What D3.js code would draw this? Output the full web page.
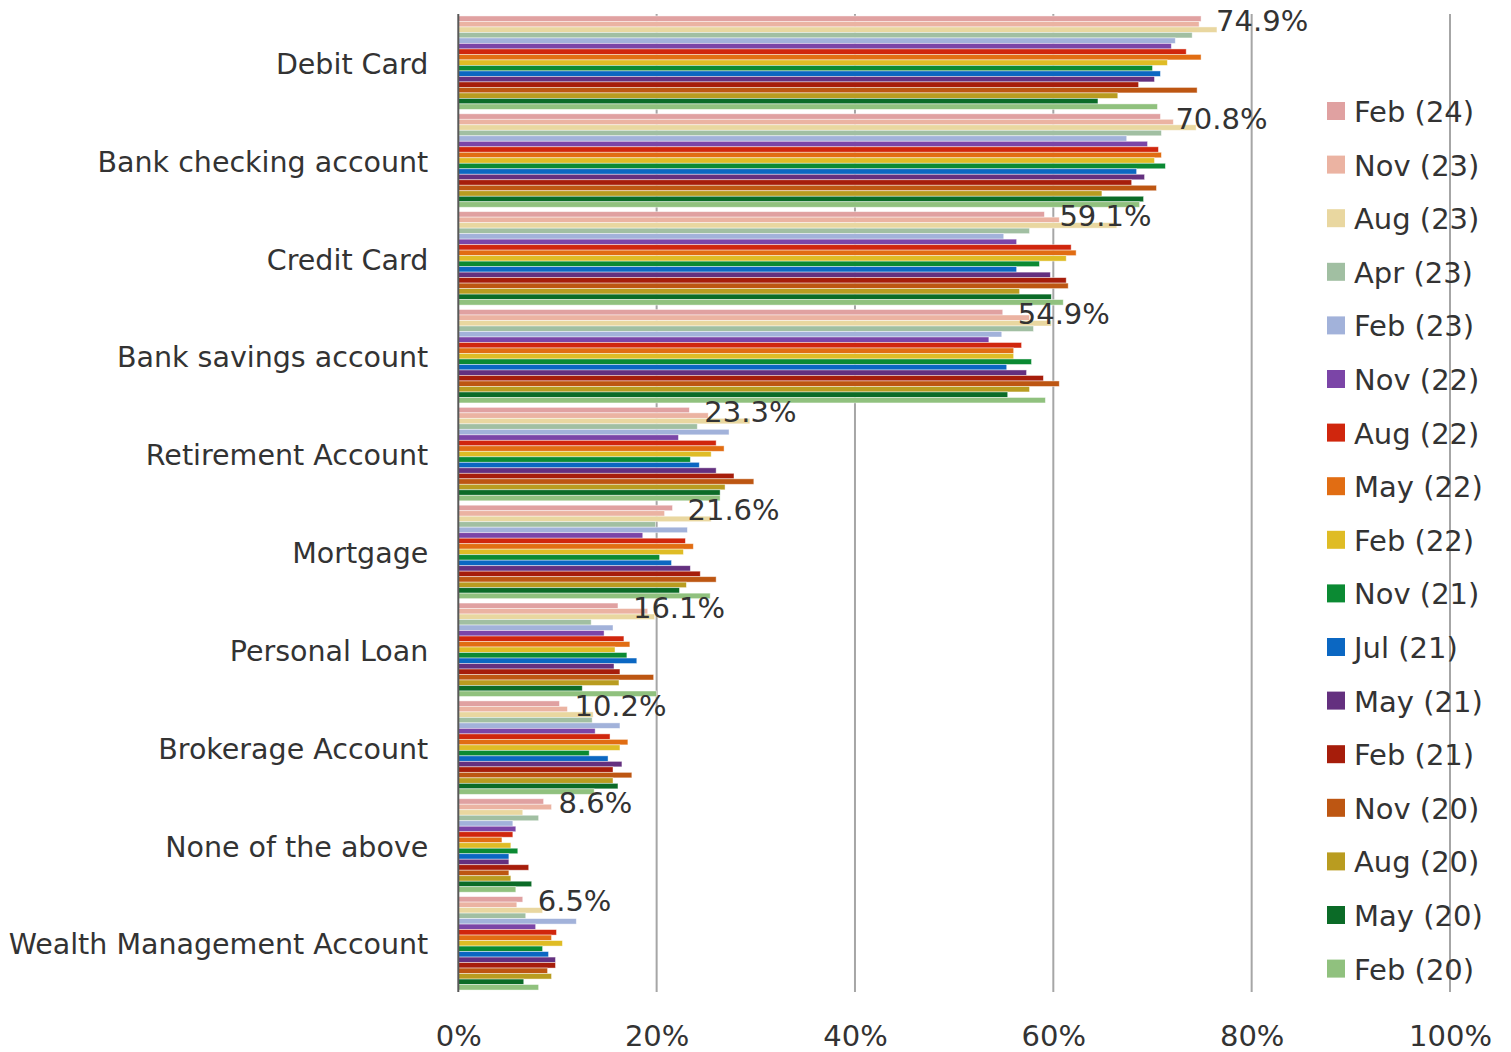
<!DOCTYPE html>
<html><head><meta charset="utf-8">
<script src="https://cdn.jsdelivr.net/npm/d3@7"></script>
<style>body{margin:0;background:#fff}svg{display:block}text{font-family:"DejaVu Sans",Verdana,sans-serif;fill:#333}</style>
</head><body><svg id="c" width="1511" height="1052"></svg>
<script>
const categories = ["Debit Card","Bank checking account","Credit Card","Bank savings account","Retirement Account","Mortgage","Personal Loan","Brokerage Account","None of the above","Wealth Management Account"];
const series = ["Feb (24)","Nov (23)","Aug (23)","Apr (23)","Feb (23)","Nov (22)","Aug (22)","May (22)","Feb (22)","Nov (21)","Jul (21)","May (21)","Feb (21)","Nov (20)","Aug (20)","May (20)","Feb (20)"];
const colors = ["#e0a1a1","#ebb3a2","#e9d7a0","#a1bfa2","#a2b2da","#7b45a7","#d0260d","#e16d13","#dfbc25","#0b8a33","#0b67c2","#64307f","#a61d0b","#bd5612","#b99c20","#0b6b27","#90c17e"];
// values[category][series], percent
const debitCard     = [74.9,74.7,76.5,74.0,72.3,71.9,73.4,74.9,71.5,70.0,70.8,70.2,68.6,74.5,66.5,64.5,70.5];
const bankChecking  = [70.8,72.1,74.4,70.9,67.4,69.5,70.6,70.9,70.2,71.3,68.4,69.2,67.9,70.4,64.9,69.1,68.7];
const creditCard    = [59.1,60.6,66.4,57.6,55.0,56.3,61.8,62.3,61.3,58.6,56.3,59.7,61.3,61.5,56.6,59.8,61.0];
const bankSavings   = [54.9,57.6,59.8,58.0,54.8,53.5,56.8,56.0,56.0,57.8,55.3,57.3,59.0,60.6,57.6,55.4,59.2];
const retirement    = [23.3,25.2,29.4,24.1,27.3,22.2,26.0,26.8,25.5,23.4,24.3,26.0,27.8,29.8,26.9,26.4,26.4];
const mortgage      = [21.6,20.8,25.5,19.9,23.1,18.6,22.9,23.7,22.7,20.3,21.5,23.4,24.4,26.0,23.0,22.3,25.4];
const personalLoan  = [16.1,19.1,19.8,13.4,15.6,14.7,16.7,17.3,15.8,17.0,18.0,15.7,16.3,19.7,16.2,12.5,20.0];
const brokerage     = [10.2,11.0,13.6,13.5,16.3,13.8,15.3,17.1,16.3,13.2,15.1,16.5,15.6,17.5,15.6,16.1,13.7];
const noneAbove     = [8.6,9.4,6.5,8.1,5.5,5.8,5.5,4.4,5.3,6.0,5.1,5.1,7.1,5.1,5.3,7.4,5.8];
const wealthMgmt    = [6.5,5.9,8.5,6.8,11.9,7.8,9.9,9.4,10.5,8.5,9.1,9.8,9.8,9.0,9.4,6.6,8.1];
const values = [debitCard,bankChecking,creditCard,bankSavings,retirement,mortgage,personalLoan,brokerage,noneAbove,wealthMgmt];
const xTicks = [0,20,40,60,80,100];

const svg = d3.select("#c");
const x = d3.scaleLinear().domain([0,100]).range([458.3,1450]);
const y = d3.scaleBand().domain(categories).range([14,992]).paddingInner(0.045).paddingOuter(0.02);
const yi = d3.scaleBand().domain(series).range([0,y.bandwidth()]);
const color = d3.scaleOrdinal().domain(series).range(colors);

// gridlines
svg.append("g").selectAll("line").data(xTicks.slice(1)).join("line")
  .attr("x1",d=>x(d)).attr("x2",d=>x(d)).attr("y1",14).attr("y2",992)
  .attr("stroke","#a6a6a6").attr("stroke-width",2);

// bars
const groups = svg.append("g").selectAll("g").data(categories).join("g")
  .attr("transform",c=>`translate(0,${y(c)})`);
groups.selectAll("rect").data((c,i)=>series.map((s,j)=>({s,v:values[i][j]}))).join("rect")
  .attr("x",x(0)).attr("y",d=>yi(d.s)).attr("height",yi.bandwidth())
  .attr("width",d=>x(d.v)-x(0)).attr("fill",d=>color(d.s))
  .attr("stroke","#fff").attr("stroke-opacity",0.55).attr("stroke-width",0.8);

// value labels for first series
groups.append("text").attr("x",(c,i)=>x(values[i][0])+15)
  .attr("y",yi(series[0])+yi.bandwidth()/2+4).attr("dominant-baseline","middle")
  .attr("font-size",29).text((c,i)=>values[i][0].toFixed(1)+"%");

// axis line at 0
svg.append("line").attr("x1",x(0)).attr("x2",x(0)).attr("y1",14).attr("y2",992)
  .attr("stroke","#595959").attr("stroke-width",2);

// category labels
const yAxis = d3.axisLeft(y).tickSize(0).tickPadding(30);
const ya = svg.append("g").attr("transform",`translate(${x(0)},2)`).call(yAxis);
ya.select(".domain").remove();
ya.selectAll("text").attr("font-size",28.5).attr("font-family","DejaVu Sans").attr("fill","#333");

// x axis labels
const xAxis = d3.axisBottom(x).tickValues(xTicks).tickFormat(d=>d+"%").tickSize(0).tickPadding(21);
const xa = svg.append("g").attr("transform","translate(0,1004)").call(xAxis);
xa.select(".domain").remove();
xa.selectAll("text").attr("font-size",29).attr("font-family","DejaVu Sans").attr("fill","#333");

// legend
const lg = svg.append("g").selectAll("g").data(series).join("g")
  .attr("transform",(d,i)=>`translate(1327,${111+i*53.6})`);
lg.append("rect").attr("x",0).attr("y",-9).attr("width",18).attr("height",18).attr("fill",d=>color(d));
lg.append("text").attr("x",27).attr("y",3).attr("dominant-baseline","middle").attr("font-size",29).text(d=>d);
</script></body></html>
